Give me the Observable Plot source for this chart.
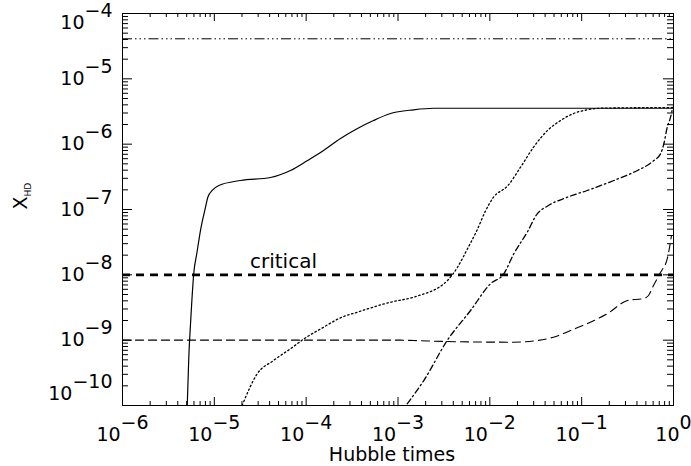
<!DOCTYPE html>
<html><head><meta charset="utf-8">
<script src="https://cdn.jsdelivr.net/npm/d3@7"></script>
<script src="https://cdn.jsdelivr.net/npm/@observablehq/plot@0.6"></script>
<style>
html,body{margin:0;padding:0;background:#fff;}
#chart svg{display:block;}
</style></head><body><div id="chart"></div>
<script>
// ---- tick decades (log10) ----
const xDecades = [-6, -5, -4, -3, -2, -1, 0];
const yDecades = [-4, -5, -6, -7, -8, -9, -10];

// ---- horizontal reference levels ----
const topLevel = 4.1e-5;        // dash-triple-dot line
const criticalLevel = 1e-8;     // thick dashed "critical"

// ---- curves as log10 values ----
const solidLogX = [-5.295,-5.278,-5.259,-5.224,-5.189,-5.151,-5.096,-5.071,-5.023,-4.951,-4.715,-4.388,-4.171,-3.985,-3.811,-3.626,-3.441,-3.267,-3.082,-2.831,-2.613,0];
const solidLogY = [-10.0,-9.261,-8.745,-7.980,-7.658,-7.322,-6.965,-6.812,-6.709,-6.633,-6.556,-6.510,-6.403,-6.250,-6.097,-5.913,-5.760,-5.638,-5.531,-5.474,-5.450,-5.450];

const dottedLogX = [-4.697,-4.533,-4.356,-4.171,-4.029,-3.811,-3.626,-3.444,-3.082,-2.831,-2.461,-2.352,-2.243,-2.134,-2.050,-1.960,-1.807,-1.666,-1.524,-1.372,-1.230,-1.089,-0.936,-0.795,0];
const dottedLogY = [-10.0,-9.515,-9.311,-9.132,-8.985,-8.802,-8.658,-8.572,-8.419,-8.342,-8.087,-7.883,-7.600,-7.300,-7.030,-6.812,-6.640,-6.353,-6.046,-5.791,-5.638,-5.531,-5.474,-5.450,-5.439];

const dashedLogX = [-6,-2.973,-2.831,-2.461,-1.742,-1.481,-1.307,-1.121,-0.936,-0.718,-0.501,-0.326,-0.272,-0.218,-0.142,-0.065,-0.022];
const dashedLogY = [-9.0,-9.0,-9.005,-9.021,-9.031,-9.005,-8.955,-8.852,-8.745,-8.592,-8.393,-8.362,-8.316,-8.163,-7.964,-7.735,-7.398];

const dashDotLogX = [-2.900,-2.719,-2.464,-2.210,-1.993,-1.848,-1.739,-1.593,-1.484,-1.375,-1.157,-0.940,-0.650,-0.432,-0.214,-0.141,-0.105,-0.068,-0.032,-0.011];
const dashDotLogY = [-9.974,-9.618,-9.005,-8.546,-8.137,-7.984,-7.678,-7.348,-7.066,-6.950,-6.812,-6.709,-6.556,-6.429,-6.250,-6.148,-5.994,-5.740,-5.587,-5.454];

const xTitle = "Hubble times";
const yTitle = "X_HD";
const criticalLabel = "critical";
const criticalLabelLogX = -4.247;

// ---- build tables ----
const toPts = (lx, ly) => lx.map((v, i) => ({x: 10 ** v, y: 10 ** ly[i]}));
const solid = toPts(solidLogX, solidLogY);
const dotted = toPts(dottedLogX, dottedLogY);
const dashed = toPts(dashedLogX, dashedLogY);
const dashDot = toPts(dashDotLogX, dashDotLogY);

const majorX = xDecades.map(d => 10 ** d);
const majorY = yDecades.map(d => 10 ** d);
const minorX = [], minorY = [];
for (let d = -6; d < 0; d++) for (let k = 2; k <= 9; k++) minorX.push(k * 10 ** d);
for (let d = -10; d < -4; d++) for (let k = 2; k <= 9; k++) minorY.push(k * 10 ** d);

const W = 691, H = 466, mL = 122, mR = 18, mT = 13, mB = 61;
const fw = W - mL - mR, fh = H - mT - mB;
const fmt = d => "10^" + String(d).replace("-", "\u2212");

const lineStyle = {x: "x", y: "y", stroke: "black", curve: "monotone-x"};

const chart = Plot.plot({
  width: W, height: H,
  marginLeft: mL, marginRight: mR, marginTop: mT, marginBottom: mB,
  style: {fontFamily: "'DejaVu Sans', sans-serif", fontSize: "19px", background: "#fff", color: "black", overflow: "visible"},
  x: {type: "log", domain: [1e-6, 1], axis: null},
  y: {type: "log", domain: [1e-10, 1e-4], axis: null},
  marks: [
    // ticks (inward, all four sides)
    Plot.ruleX(majorX, {x: d => d, insetTop: fh - 8, stroke: "black"}),
    Plot.ruleX(majorX, {x: d => d, insetBottom: fh - 8, stroke: "black"}),
    Plot.ruleX(minorX, {x: d => d, insetTop: fh - 4, stroke: "black"}),
    Plot.ruleX(minorX, {x: d => d, insetBottom: fh - 4, stroke: "black"}),
    Plot.ruleY(majorY, {y: d => d, insetRight: fw - 10, stroke: "black"}),
    Plot.ruleY(majorY, {y: d => d, insetLeft: fw - 10, stroke: "black"}),
    Plot.ruleY(minorY, {y: d => d, insetRight: fw - 6, stroke: "black"}),
    Plot.ruleY(minorY, {y: d => d, insetLeft: fw - 6, stroke: "black"}),
    Plot.frame({stroke: "black", strokeWidth: 1}),
    // reference levels
    Plot.ruleY([topLevel], {stroke: "black", strokeWidth: 1, strokeDasharray: "10,3,1.5,3,1.5,3,1.5,3"}),
    Plot.ruleY([criticalLevel], {stroke: "black", strokeWidth: 2.6, strokeDasharray: "8,6"}),
    Plot.text([criticalLabel], {x: 10 ** criticalLabelLogX, y: criticalLevel, text: d => d, dy: -13, fill: "black", fontSize: 20}),
    // curves
    Plot.line(solid, {...lineStyle, strokeWidth: 1.2}),
    Plot.line(dotted, {...lineStyle, strokeWidth: 1.3, strokeDasharray: "1.5,2.6"}),
    Plot.line(dashed, {...lineStyle, strokeWidth: 1.1, strokeDasharray: "8,5"}),
    Plot.line(dashDot, {...lineStyle, strokeWidth: 1.3, strokeDasharray: "6,3,1.5,3"}),
    // tick labels
    Plot.text(xDecades, {x: d => 10 ** d, y: 1e-10, text: fmt, dy: 29, fill: "black"}),
    Plot.text(yDecades.filter(d => d !== -4 && d !== -10), {x: 1e-6, y: d => 10 ** d, text: fmt, dx: -10, textAnchor: "end", fill: "black"}),
    Plot.text([-4], {x: 1e-6, y: d => 10 ** d, text: fmt, dx: -10, dy: 9, textAnchor: "end", fill: "black"}),
    Plot.text([-10], {x: 1e-6, y: d => 10 ** d, text: fmt, dx: -10, dy: -12, textAnchor: "end", fill: "black"}),
    // axis titles
    Plot.text([xTitle], {frameAnchor: "bottom", text: d => d, dx: -6, dy: 49, lineAnchor: "middle", fill: "black"}),
    Plot.text([yTitle], {frameAnchor: "left", text: d => d, dx: -102, rotate: -90, lineAnchor: "middle", fill: "black"})
  ]
});

// superscript / subscript rendering
d3.select(chart).selectAll("text").each(function() {
  const t = d3.select(this);
  const s = this.textContent;
  if (s.includes("^")) {
    const [b, e] = s.split("^");
    const isX = this.getAttribute("text-anchor") !== "end";
    t.text(null);
    t.append("tspan").text(b);
    t.append("tspan").attr("dy", isX ? -12 : -7).text(e);
  } else if (s.includes("_")) {
    const [b, e] = s.split("_");
    t.text(null);
    t.append("tspan").text(b);
    t.append("tspan").attr("dy", 4).attr("font-size", 9).text(e);
  }
});

document.getElementById("chart").appendChild(chart);
</script></body></html>
